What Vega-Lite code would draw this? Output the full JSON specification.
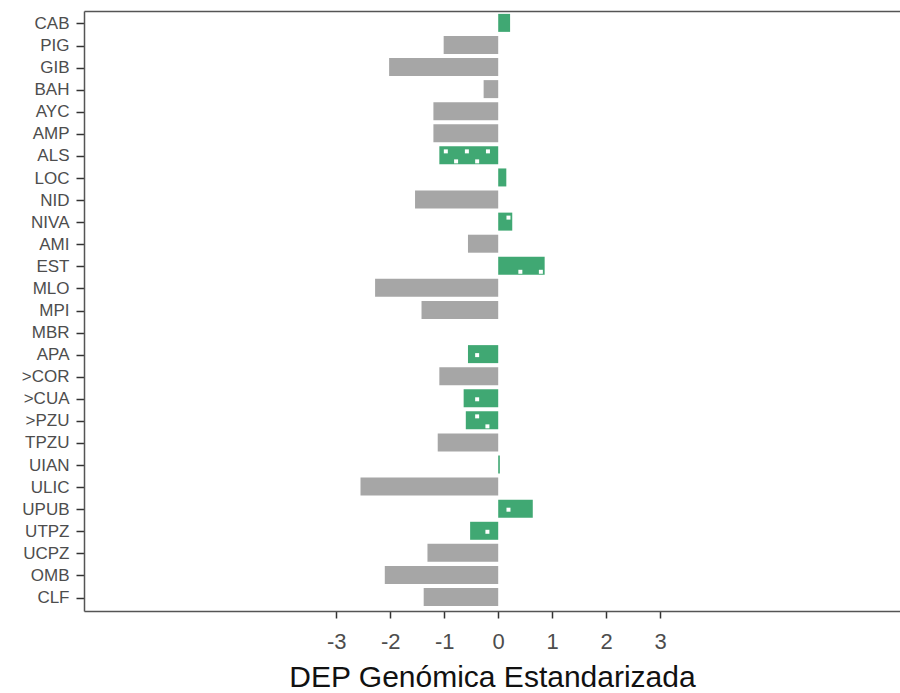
{
  "$schema": "https://vega.github.io/schema/vega-lite/v6.json",
  "width": 816,
  "height": 600,
  "autosize": {"type": "none"},
  "padding": {"left": 84, "top": 11, "right": 0, "bottom": 82},
  "background": "white",
  "config": {
    "view": {"stroke": null},
    "font": "Liberation Sans"
  },
  "resolve": {"axis": {"x": "independent"}},
  "layer": [
    {
      "data": {
        "values": [
          {"cat": "CAB", "valor": 0.22, "grupo": "si"},
          {"cat": "PIG", "valor": -1.01, "grupo": "no"},
          {"cat": "GIB", "valor": -2.02, "grupo": "no"},
          {"cat": "BAH", "valor": -0.27, "grupo": "no"},
          {"cat": "AYC", "valor": -1.2, "grupo": "no"},
          {"cat": "AMP", "valor": -1.2, "grupo": "no"},
          {"cat": "ALS", "valor": -1.09, "grupo": "si"},
          {"cat": "LOC", "valor": 0.15, "grupo": "si"},
          {"cat": "NID", "valor": -1.54, "grupo": "no"},
          {"cat": "NIVA", "valor": 0.26, "grupo": "si"},
          {"cat": "AMI", "valor": -0.56, "grupo": "no"},
          {"cat": "EST", "valor": 0.86, "grupo": "si"},
          {"cat": "MLO", "valor": -2.28, "grupo": "no"},
          {"cat": "MPI", "valor": -1.42, "grupo": "no"},
          {"cat": "MBR", "valor": 0, "grupo": "no"},
          {"cat": "APA", "valor": -0.56, "grupo": "si"},
          {"cat": ">COR", "valor": -1.09, "grupo": "no"},
          {"cat": ">CUA", "valor": -0.64, "grupo": "si"},
          {"cat": ">PZU", "valor": -0.6, "grupo": "si"},
          {"cat": "TPZU", "valor": -1.12, "grupo": "no"},
          {"cat": "UIAN", "valor": 0.03, "grupo": "si"},
          {"cat": "ULIC", "valor": -2.55, "grupo": "no"},
          {"cat": "UPUB", "valor": 0.64, "grupo": "si"},
          {"cat": "UTPZ", "valor": -0.52, "grupo": "si"},
          {"cat": "UCPZ", "valor": -1.31, "grupo": "no"},
          {"cat": "OMB", "valor": -2.1, "grupo": "no"},
          {"cat": "CLF", "valor": -1.38, "grupo": "no"}
        ]
      },
      "mark": {"type": "bar"},
      "encoding": {
        "y": {
          "field": "cat",
          "type": "nominal",
          "sort": ["CAB","PIG","GIB","BAH","AYC","AMP","ALS","LOC","NID","NIVA","AMI","EST","MLO","MPI","MBR","APA",">COR",">CUA",">PZU","TPZU","UIAN","ULIC","UPUB","UTPZ","UCPZ","OMB","CLF"],
          "scale": {"paddingInner": 0.09, "paddingOuter": 0.13},
          "axis": {
            "title": null,
            "domainColor": "#555555",
            "domainWidth": 1.5,
            "tickColor": "#333333",
            "tickWidth": 1.5,
            "tickSize": 8,
            "labelPadding": 7,
            "labelFontSize": 17,
            "labelColor": "#4d4d4d",
            "labelFont": "Liberation Sans"
          }
        },
        "x": {
          "field": "valor",
          "type": "quantitative",
          "scale": {"domain": [-7.67, 7.44], "nice": false, "zero": false},
          "axis": {
            "title": "DEP Genómica Estandarizada",
            "values": [-3, -2, -1, 0, 1, 2, 3],
            "labelExpr": "'' + datum.value",
            "grid": false,
            "domainColor": "#555555",
            "domainWidth": 1.5,
            "tickColor": "#333333",
            "tickWidth": 1.5,
            "tickSize": 7,
            "labelPadding": 13,
            "labelFontSize": 22,
            "labelColor": "#4d4d4d",
            "labelFont": "Liberation Sans",
            "titleFontSize": 30,
            "titleFontWeight": "normal",
            "titleColor": "#111111",
            "titleFont": "Liberation Sans",
            "titlePadding": 10
          }
        },
        "color": {
          "field": "grupo",
          "type": "nominal",
          "scale": {"domain": ["no", "si"], "range": ["#a6a6a6", "#40a873"]},
          "legend": null
        }
      }
    },
    {
      "data": {
        "values": [
          {"cat": "ALS", "valor": -0.97, "fila": "sup"},
          {"cat": "ALS", "valor": -0.58, "fila": "sup"},
          {"cat": "ALS", "valor": -0.19, "fila": "sup"},
          {"cat": "ALS", "valor": -0.78, "fila": "inf"},
          {"cat": "ALS", "valor": -0.39, "fila": "inf"},
          {"cat": "NIVA", "valor": 0.19, "fila": "sup"},
          {"cat": "EST", "valor": 0.41, "fila": "inf"},
          {"cat": "EST", "valor": 0.79, "fila": "inf"},
          {"cat": "APA", "valor": -0.39, "fila": "med"},
          {"cat": ">CUA", "valor": -0.39, "fila": "med"},
          {"cat": ">PZU", "valor": -0.39, "fila": "sup"},
          {"cat": ">PZU", "valor": -0.2, "fila": "inf"},
          {"cat": "UPUB", "valor": 0.19, "fila": "med"},
          {"cat": "UTPZ", "valor": -0.2, "fila": "med"}
        ]
      },
      "mark": {"type": "square", "filled": true, "color": "white", "opacity": 1, "size": 16},
      "encoding": {
        "y": {
          "field": "cat",
          "type": "nominal",
          "sort": ["CAB","PIG","GIB","BAH","AYC","AMP","ALS","LOC","NID","NIVA","AMI","EST","MLO","MPI","MBR","APA",">COR",">CUA",">PZU","TPZU","UIAN","ULIC","UPUB","UTPZ","UCPZ","OMB","CLF"]
        },
        "yOffset": {
          "field": "fila",
          "type": "nominal",
          "scale": {"type": "point", "domain": ["sup", "med", "inf"], "range": [5, 15], "padding": 0}
        },
        "x": {
          "field": "valor",
          "type": "quantitative",
          "axis": {
            "orient": "top",
            "labels": false,
            "ticks": false,
            "grid": false,
            "title": null,
            "domainColor": "#555555",
            "domainWidth": 1.5
          }
        }
      }
    }
  ]
}
